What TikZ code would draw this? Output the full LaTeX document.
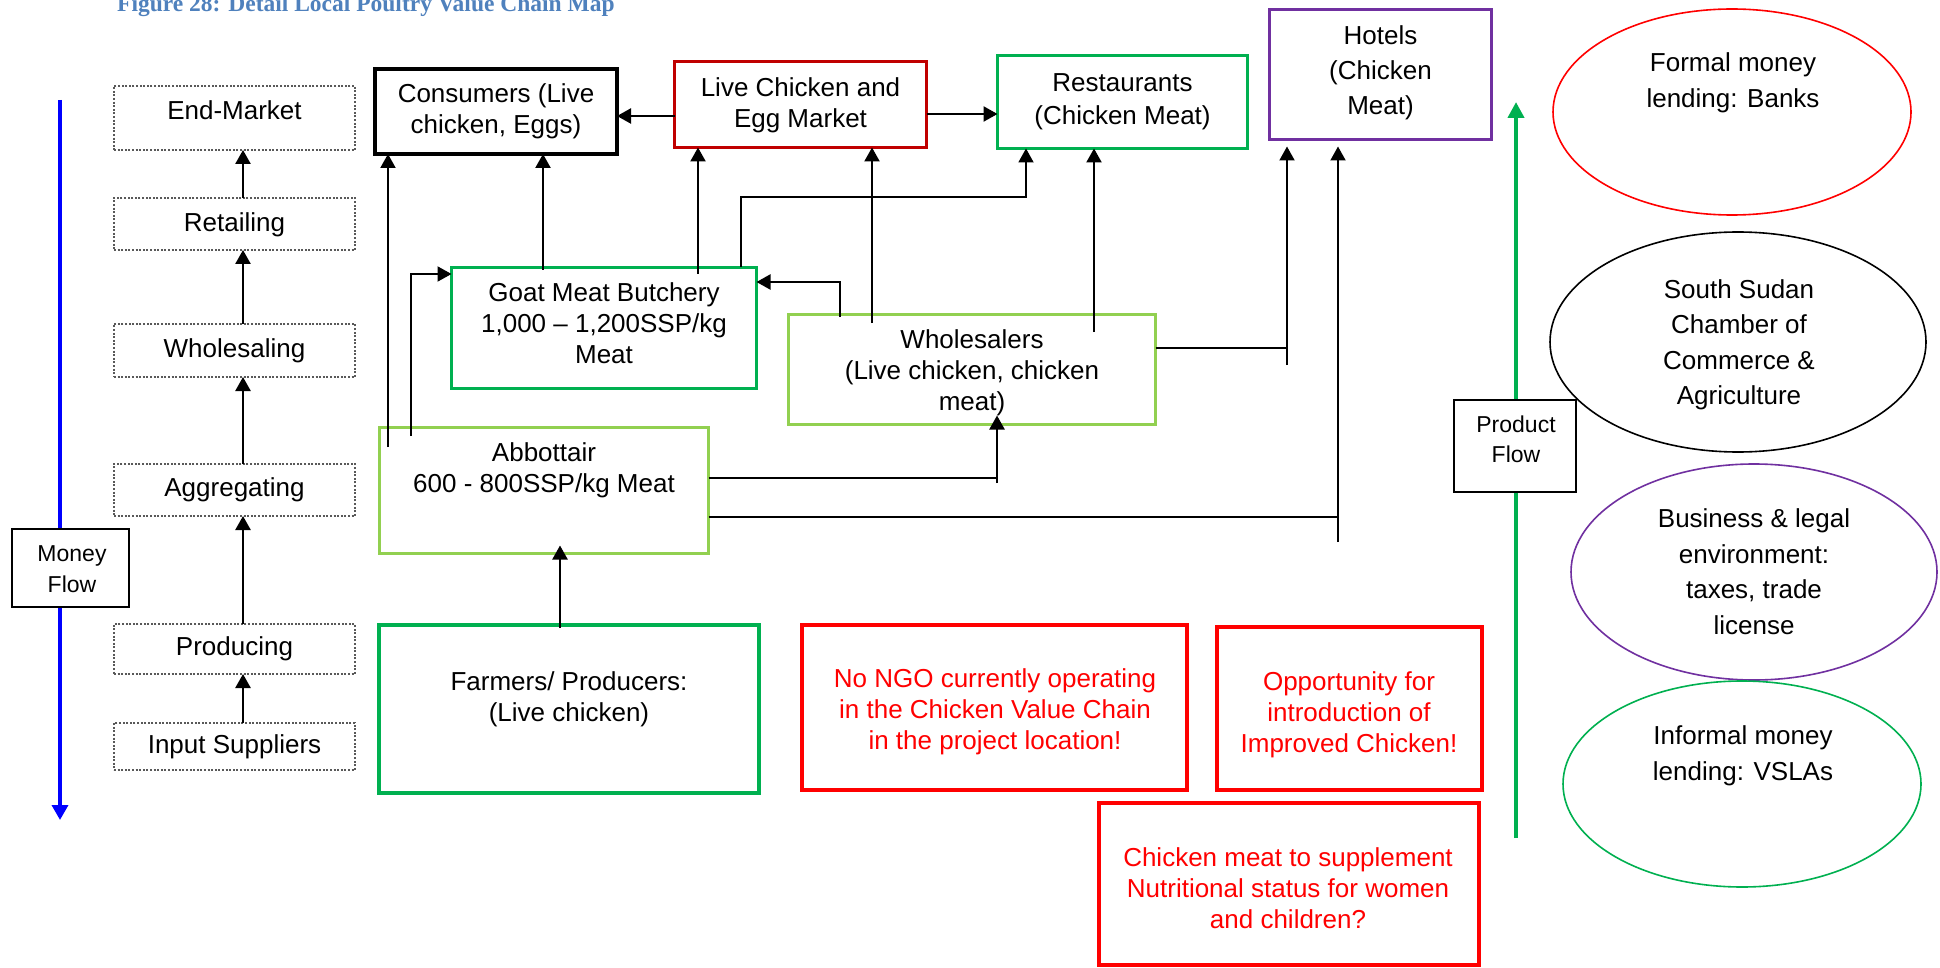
\documentclass[tikz,border=0pt]{standalone}
\usepackage{fontspec}
\setmainfont{Liberation Sans}
\newfontfamily\titlefont{Liberation Serif}
\usetikzlibrary{arrows.meta,shapes.geometric}
\definecolor{tblue}{HTML}{4F81BD}
\definecolor{dred}{HTML}{C00000}
\definecolor{xgreen}{HTML}{00B050}
\definecolor{lgreen}{HTML}{92D050}
\definecolor{xpurple}{HTML}{7030A0}
\definecolor{xred}{HTML}{FF0000}
\definecolor{xblue}{HTML}{0000FF}

\begin{document}
\begin{tikzpicture}[x=1pt,y=-1pt,
  txt/.style={inner sep=0pt, align=center, font=\fontsize{26}{31}\selectfont},
  etxt/.style={inner sep=0pt, align=center, font=\fontsize{26}{35.5}\selectfont},
  stxt/.style={inner sep=0pt, align=center, font=\fontsize{23}{31}\selectfont},
  box/.style={draw, inner sep=0pt, outer sep=0pt},
  stage/.style={box, draw=black!65, line width=1.2pt, dash pattern=on 2pt off 1.6pt, minimum width=241pt},
  flowbox/.style={box, fill=white, line width=2pt},
  ell/.style={ellipse, draw, line width=1.6pt, inner sep=0pt, outer sep=0pt},
  tip/.style={-{Triangle[length=14pt,width=15pt]}},
  conn/.style={line width=2.3pt, tip},
  thinline/.style={line width=1.8pt}
]
\fill[white] (0,0) rectangle (1940,968);
\useasboundingbox (0,0) rectangle (1940,968);

% heading
\node[anchor=base west, inner sep=0pt, text=tblue,
      font=\titlefont\bfseries\fontsize{23.5}{28}\selectfont] (title) at (117,12)
      {Figure 28: Detail Local Poultry Value Chain Map};

% money and product flow axes
\coordinate (mfTop) at (60,100);
\coordinate (mfEnd) at (60,820);
\draw[line width=3.5pt, xblue, -{Triangle[length=15pt,width=16pt]}] (mfTop) -- (mfEnd);
\coordinate (pfBot) at (1516,838);
\coordinate (pfEnd) at (1516,102);
\draw[line width=4pt, xgreen, -{Triangle[length=16pt,width=16pt]}] (pfBot) -- (pfEnd);

\node[flowbox, minimum width=117pt, minimum height=78pt] (mf) at (70.5,568) {};
\node[stxt] (mfT) at (72,569) {Money\\Flow};
\node[flowbox, minimum width=122pt, minimum height=92pt] (pf) at (1515,446) {};
\node[stxt, font=\fontsize{23}{30}\selectfont] (pfT) at (1516,439.5) {Product\\Flow};

% value chain stages
\node[stage, minimum height=64pt] (em) at (234.5,118) {};
\node[stage, minimum height=52pt] (rt) at (234.5,224) {};
\node[stage, minimum height=53pt] (ws) at (234.5,350.5) {};
\node[stage, minimum height=52pt] (ag) at (234.5,490) {};
\node[stage, minimum height=50pt] (pr) at (234.5,649) {};
\node[stage, minimum height=47pt] (is) at (234.5,746.5) {};
\node[txt] (emT) at (234.5,110.5) {End-Market};
\node[txt] (rtT) at (234.5,225) {Retailing};
\node[txt] (wsT) at (234.5,351) {Wholesaling};
\node[txt] (agT) at (234.5,490) {Aggregating};
\node[txt] (prT) at (234.5,649) {Producing};
\node[txt] (isT) at (234.5,746.5) {Input Suppliers};
\foreach \a/\b in {rt/em, ws/rt, ag/ws, pr/ag, is/pr}
  \draw[conn, line width=2.5pt] (\a.north -| 243,0) -- (\b.south -| 243,0);

% actors
\node[box, line width=4pt, minimum width=242pt, minimum height=85pt] (cons) at (496,111.5) {};
\node[box, draw=dred, line width=3pt, minimum width=252pt, minimum height=86pt] (lcm) at (800.5,104.5) {};
\node[box, draw=xgreen, line width=3.5pt, minimum width=250pt, minimum height=93pt] (rest) at (1122.5,102) {};
\node[box, draw=xpurple, line width=3.5pt, minimum width=222pt, minimum height=130pt] (hot) at (1380.5,74.5) {};
\node[box, draw=xgreen, line width=3.5pt, minimum width=305pt, minimum height=121pt] (goat) at (604,328) {};
\node[box, draw=lgreen, line width=3.5pt, minimum width=367pt, minimum height=110pt] (whol) at (972,369.5) {};
\node[box, draw=lgreen, line width=3.5pt, minimum width=329pt, minimum height=126pt] (abb) at (544,490.5) {};
\node[box, draw=xgreen, line width=4pt, minimum width=380pt, minimum height=168pt] (farm) at (569,709) {};

\node[txt] (consT) at (496,111.75) {Consumers (Live\\chicken, Eggs)};
\node[txt] (lcmT) at (800.5,105.25) {Live Chicken and\\Egg Market};
\node[txt, font=\fontsize{26}{33}\selectfont] (restT) at (1122.5,102) {Restaurants\\(Chicken Meat)};
\node[txt, font=\fontsize{26}{35}\selectfont] (hotT) at (1380.5,73) {Hotels\\(Chicken\\Meat)};
\node[txt] (goatT) at (604,323.5) {Goat Meat Butchery\\1,000 – 1,200SSP/kg\\Meat};
\node[txt] (wholT) at (972,372.75) {Wholesalers\\(Live chicken, chicken\\meat)};
\node[txt] (abbT) at (544,470) {Abbottair\\600 - 800SSP/kg Meat};
\node[txt] (farmT) at (569,699) {Farmers/ Producers:\\(Live chicken)};

% remarks
\node[box, draw=xred, line width=4pt, minimum width=385pt, minimum height=165pt] (ngo) at (994.5,707.5) {};
\node[box, draw=xred, line width=4pt, minimum width=265pt, minimum height=163pt] (opp) at (1349.5,708.5) {};
\node[box, draw=xred, line width=4pt, minimum width=380pt, minimum height=162pt] (nut) at (1289,884) {};
\node[txt, text=xred] (ngoT) at (995,712) {No NGO currently operating\\in the Chicken Value Chain\\in the project location!};
\node[txt, text=xred] (oppT) at (1349,714.75) {Opportunity for\\introduction of\\Improved Chicken!};
\node[txt, text=xred] (nutT) at (1288,888) {Chicken meat to supplement\\Nutritional status for women\\and children?};

% enabling environment
\node[ell, draw=xred, minimum width=358pt, minimum height=206pt] (e1) at (1732,112) {};
\node[ell, draw=black, minimum width=376pt, minimum height=220pt] (e2) at (1738,342) {};
\node[ell, draw=xpurple, minimum width=366pt, minimum height=216pt] (e3) at (1754,572) {};
\node[ell, draw=xgreen, minimum width=358pt, minimum height=206pt] (e4) at (1742,784) {};
\node[etxt] (e1T) at (1733,82.75) {Formal money\\lending: Banks};
\node[etxt] (e2T) at (1739,344.75) {South Sudan\\Chamber of\\Commerce \&\\Agriculture};
\node[etxt] (e3T) at (1754,571.5) {Business \& legal\\environment:\\taxes, trade\\license};
\node[etxt] (e4T) at (1743,755.75) {Informal money\\lending: VSLAs};

% product flows between actors
\draw[conn] (lcm.west |- 0,116) -- (cons.east |- 0,116);
\draw[conn] (lcm.east |- 0,114) -- (rest.west |- 0,114);

\coordinate (p1) at (388,447);
\draw[conn, line width=2pt] (p1) -- (cons.south -| p1);
\coordinate (p2) at (411,436);
\draw[conn, line width=2pt] (p2) |- (goat.west |- 0,274);
\coordinate (p3) at (543,270);
\draw[conn] (p3) -- (cons.south -| p3);
\coordinate (p4) at (698,274);
\draw[conn] (p4) -- (lcm.south -| p4);
\coordinate (p5) at (741,267);
\coordinate (p5b) at (1026,197);
\draw[conn, line width=1.9pt] (p5) |- (p5b) -- (rest.south -| p5b);
\coordinate (p6) at (840,317);
\draw[conn] (p6) |- (goat.east |- 0,282);
\coordinate (p7) at (872,323);
\draw[conn] (p7) -- (lcm.south -| p7);
\coordinate (p8) at (1094,332);
\draw[conn] (p8) -- (rest.south -| p8);

\coordinate (p9) at (1287,365);
\draw[thinline] (whol.east |- 0,348) -- (p9 |- 0,348);
\draw[conn, line width=2pt, shorten >=7pt] (p9) -- (hot.south -| p9);

\coordinate (p10) at (997,483);
\draw[thinline] (abb.east |- 0,478) -- (p10 |- 0,478);
\draw[conn, shorten >=-9pt] (p10) -- (whol.south -| p10);

\coordinate (p11) at (1338,542);
\draw[thinline] (abb.east |- 0,517) -- (p11 |- 0,517);
\draw[conn, line width=2pt, shorten >=7pt] (p11) -- (hot.south -| p11);

\coordinate (p12) at (560,628);
\draw[conn, shorten >=-8pt] (p12) -- (abb.south -| p12);
\end{tikzpicture}
\end{document}
